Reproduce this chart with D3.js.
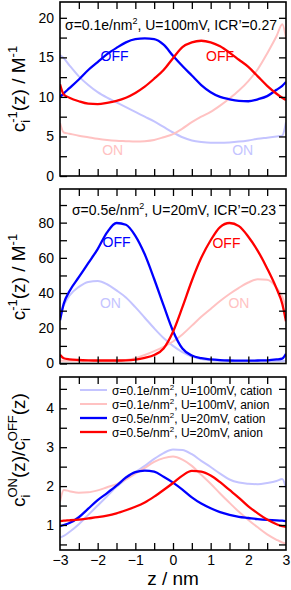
<!DOCTYPE html>
<html><head><meta charset="utf-8">
<script src="https://cdn.jsdelivr.net/npm/d3@7"></script>
<style>
body{margin:0;background:#fff;}
svg{display:block;font-family:"Liberation Sans",Arial,sans-serif;}
</style></head>
<body>
<svg id="chart" width="291" height="590"></svg>
<script>
// ---------- data ----------
const zGrid = [-3,-2.9,-2.75,-2.5,-2.25,-2,-1.75,-1.5,-1.25,-1,-0.75,-0.5,-0.25,0,0.25,0.5,0.75,1,1.25,1.5,1.75,2,2.25,2.5,2.75,2.9,3];

// Panel 1: sigma=0.1 e/nm^2, U=100mV
const p1CationOn  = [15.3,14.9,14.0,12.6,11.5,10.6,9.9,9.3,8.7,8.1,7.5,6.9,6.2,5.5,4.9,4.5,4.3,4.2,4.2,4.25,4.35,4.5,4.7,4.85,5.0,5.1,6.8];
const p1AnionOn   = [6.7,5.5,5.35,5.1,4.9,4.7,4.55,4.45,4.4,4.35,4.4,4.55,4.9,5.3,6.0,6.8,7.5,8.1,8.9,9.8,10.8,12.0,13.5,15.5,17.7,19.2,17.5];
const p1CationOff = [10.0,10.45,11.1,12.2,13.4,14.4,15.4,16.2,16.9,17.3,17.4,17.3,16.6,15.2,13.9,12.7,11.5,10.6,10.0,9.7,9.5,9.45,9.7,10.1,10.9,11.4,11.9];
const p1AnionOff  = [11.6,10.3,9.9,9.45,9.15,9.1,9.25,9.5,9.9,10.5,11.3,12.3,13.4,14.9,16.3,16.9,17.1,16.9,16.4,15.6,14.7,13.8,12.6,11.4,10.4,9.9,9.6];

// Panel 2: sigma=0.5 e/nm^2, U=20mV
const p2CationOn  = [28,33,38.5,43.5,46.3,46.8,45,41.5,37.5,32,26,20,14.5,10,6.5,4,2.6,1.9,1.6,1.5,1.4,1.4,1.4,1.4,1.4,1.45,1.5];
const p2AnionOn   = [1.5,1.5,1.5,1.5,1.5,1.5,1.5,1.6,2.0,3.0,4.8,7.0,9.5,12.5,16.5,21.5,26.5,31,35.5,39.5,43,46,47.8,47.5,43,38,32];
const p2CationOff = [24.5,34,41,49,57,65,74.5,79.8,78.8,72.5,62,48,33,18.5,8.5,4.5,3.0,2.3,1.9,1.7,1.6,1.6,1.7,1.8,2.3,2.8,5.5];
const p2AnionOff  = [5.0,3.0,2.4,2.0,1.8,1.7,1.7,1.7,1.8,2.2,3.2,4.8,8.5,18,32,47,60,70,77.5,79.8,78,72,64,54,42.5,34,24];

// Panel 3: ratio c_ON / c_OFF
const p3Cation01 = [0.68,0.72,0.82,1.02,1.26,1.50,1.74,1.98,2.18,2.36,2.52,2.70,2.85,2.94,2.93,2.82,2.65,2.49,2.32,2.17,2.09,2.06,2.05,2.08,2.13,2.18,1.95];
const p3Anion01  = [1.60,1.90,1.87,1.83,1.84,1.89,1.97,2.05,2.17,2.32,2.47,2.62,2.72,2.76,2.68,2.52,2.29,2.06,1.81,1.57,1.34,1.13,0.94,0.76,0.62,0.55,0.52];
const p3Cation05 = [0.97,1.0,1.05,1.20,1.42,1.64,1.82,2.01,2.22,2.36,2.40,2.37,2.24,2.09,1.91,1.71,1.55,1.43,1.33,1.26,1.21,1.18,1.15,1.13,1.12,1.11,1.10];
const p3Anion05  = [1.10,1.11,1.12,1.14,1.17,1.20,1.24,1.30,1.38,1.47,1.58,1.73,1.90,2.08,2.27,2.39,2.37,2.27,2.10,1.90,1.70,1.48,1.30,1.14,1.02,0.97,0.95];

const xTicks = [-3,-2,-1,0,1,2,3];
const xMinor = [-2.5,-1.5,-0.5,0.5,1.5,2.5];
const p1Ticks = [0,5,10,15,20];
const p1Minor = [2.5,7.5,12.5,17.5];
const p2Ticks = [0,20,40,60,80];
const p2Minor = [10,30,50,70,90];
const p3Ticks = [1,2,3,4];
const p3Minor = [0.5,1.5,2.5,3.5,4.5];

const legendLabels = [
  ["σ=0.1e/nm","2",", U=100mV, cation"],
  ["σ=0.1e/nm","2",", U=100mV, anion"],
  ["σ=0.5e/nm","2",", U=20mV, cation"],
  ["σ=0.5e/nm","2",", U=20mV, anion"]
];

// ---------- styles ----------
const C_LB = "#c4c4ff", C_LR = "#ffc2c2", C_B = "#0000ff", C_R = "#ff0000";

const svg = d3.select("#chart");
const X0 = 60, X1 = 286;
const x = d3.scaleLinear().domain([-3,3]).range([X0,X1]);

const panels = [
  {top:2, bot:176, domain:[0,22], ticks:p1Ticks, minor:p1Minor, fmt:d3.format("d"),
   series:[[p1CationOn,C_LB,2],[p1AnionOn,C_LR,2],[p1CationOff,C_B,2.3],[p1AnionOff,C_R,2.3]]},
  {top:189, bot:363.5, domain:[0,99.1], ticks:p2Ticks, minor:p2Minor, fmt:d3.format("d"),
   series:[[p2CationOn,C_LB,2],[p2AnionOn,C_LR,2],[p2CationOff,C_B,2.3],[p2AnionOff,C_R,2.3]]},
  {top:377, bot:550, domain:[0.357,4.805], ticks:p3Ticks, minor:p3Minor, fmt:d3.format("d"),
   series:[[p3Cation01,C_LB,2],[p3Anion01,C_LR,2],[p3Cation05,C_B,2.3],[p3Anion05,C_R,2.3]]}
];

panels.forEach((p,i)=>{
  const y = d3.scaleLinear().domain(p.domain).range([p.bot,p.top]);
  p.y = y;
  const g = svg.append("g");
  const clipId = "clip"+i;
  svg.append("clipPath").attr("id",clipId).append("rect")
    .attr("x",X0).attr("y",p.top).attr("width",X1-X0).attr("height",p.bot-p.top);

  const line = d3.line().x((d,j)=>x(zGrid[j])).y(d=>y(d)).curve(d3.curveMonotoneX);
  const lg = g.append("g").attr("clip-path",`url(#${clipId})`);
  p.series.forEach(([vals,col,w])=>{
    lg.append("path").attr("d",line(vals)).attr("fill","none")
      .attr("stroke",col).attr("stroke-width",w).attr("stroke-linejoin","round");
  });

  const tk = 7;
  const styleAxis = a => { a.select(".domain").remove(); a.selectAll("line").attr("stroke","#000").attr("stroke-width",1.3); };
  // left
  const la = g.append("g").attr("transform",`translate(${X0},0)`)
    .call(d3.axisLeft(y).tickValues(p.ticks).tickSizeInner(-tk).tickSizeOuter(0).tickPadding(6).tickFormat(p.fmt));
  styleAxis(la);
  la.selectAll("text").attr("font-size",14).attr("fill","#000").attr("font-family","Liberation Sans, Arial, sans-serif");
  styleAxis(g.append("g").attr("transform",`translate(${X0},0)`)
    .call(d3.axisLeft(y).tickValues(p.minor.filter(v=>v>p.domain[0]&&v<p.domain[1])).tickSizeInner(-tk).tickSizeOuter(0).tickFormat("")));
  // right
  styleAxis(g.append("g").attr("transform",`translate(${X1},0)`)
    .call(d3.axisRight(y).tickValues(p.ticks.concat(p.minor).filter(v=>v>p.domain[0]&&v<p.domain[1])).tickSizeInner(-tk).tickSizeOuter(0).tickFormat("")));
  // top
  styleAxis(g.append("g").attr("transform",`translate(0,${p.top})`)
    .call(d3.axisTop(x).tickValues(xTicks.concat(xMinor).filter(v=>v>-3&&v<3)).tickSizeInner(-tk).tickSizeOuter(0).tickFormat("")));
  // bottom
  const ba = g.append("g").attr("transform",`translate(0,${p.bot})`)
    .call(d3.axisBottom(x).tickValues(i===2?xTicks:xTicks.filter(v=>v>-3&&v<3)).tickSizeInner(-tk).tickSizeOuter(0).tickPadding(5).tickFormat(i===2?d3.format("d"):""));
  styleAxis(ba);
  ba.selectAll("line").filter(d=>d===-3||d===3).remove();
  ba.selectAll("text").attr("font-size",14).attr("fill","#000");
  styleAxis(g.append("g").attr("transform",`translate(0,${p.bot})`)
    .call(d3.axisBottom(x).tickValues(xMinor).tickSizeInner(-tk).tickSizeOuter(0).tickFormat("")));

  // frame
  g.append("rect").attr("x",X0).attr("y",p.top).attr("width",X1-X0).attr("height",p.bot-p.top)
    .attr("fill","none").attr("stroke","#000").attr("stroke-width",1.6);
});

// ---------- text helpers ----------
function addText(parent, xx, yy, parts, opts){
  const t = parent.append("text").attr("x",xx).attr("y",yy)
    .attr("text-anchor",opts.anchor||"start").attr("font-size",opts.size).attr("fill",opts.fill||"#000");
  parts.forEach(pt=>{
    const s = t.append("tspan").text(pt.t);
    if(pt.size) s.attr("font-size",pt.size);
    if(pt.dy) s.attr("dy",pt.dy);
    if(pt.dx) s.attr("dx",pt.dx);
  });
  return t;
}

// annotations
addText(svg, 171, 30, [{t:"σ=0.1e/nm"},{t:"2",size:9,dy:-6},{t:", U=100mV, ICR’=0.27",dy:6}], {anchor:"middle",size:14});
addText(svg, 174, 215, [{t:"σ=0.5e/nm"},{t:"2",size:9,dy:-6},{t:", U=20mV, ICR’=0.23",dy:6}], {anchor:"middle",size:14});

// curve labels
const P1 = panels[0], P2 = panels[1];
svg.append("text").attr("x",x(-1.55)).attr("y",P1.y(14.6)).attr("text-anchor","middle").attr("font-size",14).attr("fill",C_B).text("OFF");
svg.append("text").attr("x",x(1.25)).attr("y",P1.y(14.6)).attr("text-anchor","middle").attr("font-size",14).attr("fill",C_R).text("OFF");
svg.append("text").attr("x",x(-1.6)).attr("y",P1.y(2.6)).attr("text-anchor","middle").attr("font-size",14).attr("fill",C_LR).text("ON");
svg.append("text").attr("x",x(1.85)).attr("y",P1.y(2.6)).attr("text-anchor","middle").attr("font-size",14).attr("fill",C_LB).text("ON");
svg.append("text").attr("x",x(-1.5)).attr("y",P2.y(66)).attr("text-anchor","middle").attr("font-size",14).attr("fill",C_B).text("OFF");
svg.append("text").attr("x",x(1.42)).attr("y",P2.y(65.5)).attr("text-anchor","middle").attr("font-size",14).attr("fill",C_R).text("OFF");
svg.append("text").attr("x",x(-1.66)).attr("y",P2.y(31.5)).attr("text-anchor","middle").attr("font-size",14).attr("fill",C_LB).text("ON");
svg.append("text").attr("x",x(1.75)).attr("y",P2.y(31.5)).attr("text-anchor","middle").attr("font-size",14).attr("fill",C_LR).text("ON");

// legend
const legCols = [[C_LB,2],[C_LR,2],[C_B,2.3],[C_R,2.3]];
legendLabels.forEach((lab,k)=>{
  const yy = 390 + k*14;
  svg.append("line").attr("x1",80).attr("x2",107).attr("y1",yy).attr("y2",yy)
    .attr("stroke",legCols[k][0]).attr("stroke-width",legCols[k][1]);
  addText(svg, 112, yy+4.5, [{t:lab[0]},{t:lab[1],size:8,dy:-5},{t:lab[2],dy:5}], {size:12});
});

// y-axis labels
function yLabel(cy, parts){
  const g = svg.append("g").attr("transform",`translate(25,${cy}) rotate(-90)`);
  addText(g, 0, 0, parts, {anchor:"middle", size:19});
}
yLabel(89, [{t:"c"},{t:"i",size:13,dy:5},{t:"-1",size:13,dx:-3,dy:-13},{t:"(z) / M",dy:8},{t:"-1",size:13,dy:-8}]);
yLabel(277, [{t:"c"},{t:"i",size:13,dy:5},{t:"-1",size:13,dx:-3,dy:-13},{t:"(z) / M",dy:8},{t:"-1",size:13,dy:-8}]);
yLabel(450, [{t:"c"},{t:"i",size:13,dy:5},{t:"ON",size:13,dx:-3,dy:-13},{t:"(z)/c",dy:8},{t:"i",size:13,dy:5},{t:"OFF",size:13,dx:-3,dy:-13},{t:"(z)",dy:8}]);

// x-axis label
svg.append("text").attr("x",173).attr("y",585).attr("text-anchor","middle").attr("font-size",19).text("z / nm");
</script>
</body></html>
